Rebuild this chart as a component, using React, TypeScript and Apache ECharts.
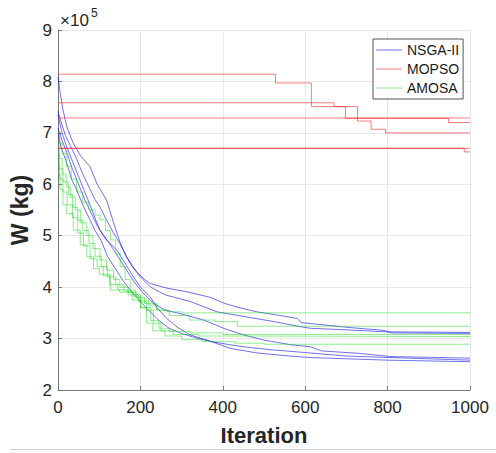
import React, { useEffect, useRef } from "react";
import * as echarts from "echarts";

// values in units of 1e5 kg; each point = [iteration, W]
const nsga1 = [[0,7.42],[8,7.2],[18,6.95],[30,6.75],[45,6.5],[60,6.2],[75,5.95],[90,5.7],[102,5.56],[118,5.3],[135,5.05],[150,4.85],[167,4.59],[180,4.42],[191,4.3],[210,4.15],[224,4.07],[264,3.98],[313,3.91],[370,3.8],[402,3.69],[440,3.6],[483,3.52],[530,3.46],[581,3.39],[590,3.31],[640,3.27],[700,3.22],[790,3.16],[810,3.11],[1000,3.1]];
const nsga2 = [[0,8.09],[5,7.8],[12,7.45],[22,7.1],[37,6.8],[55,6.55],[78,6.34],[95,6.0],[118,5.69],[135,5.25],[151,4.86],[165,4.6],[180,4.4],[200,4.2],[225,4.0],[260,3.85],[321,3.72],[386,3.52],[451,3.43],[524,3.33],[589,3.23],[613,3.2],[700,3.17],[800,3.13],[1000,3.12]];
const nsga3 = [[0,7.35],[10,7.0],[20,6.75],[35,6.45],[50,6.15],[65,5.85],[80,5.55],[92,5.3],[102,5.11],[120,4.9],[143,4.72],[160,4.5],[183,4.2],[200,4.0],[224,3.81],[240,3.6],[264,3.39],[290,3.22],[321,3.07],[362,2.97],[418,2.81],[483,2.72],[548,2.67],[613,2.63],[800,2.58],[1000,2.55]];
const nsga4 = [[0,7.1],[10,6.85],[22,6.6],[35,6.3],[50,6.0],[65,5.7],[80,5.45],[95,5.2],[110,5.0],[125,4.85],[145,4.6],[165,4.35],[185,4.1],[205,3.9],[230,3.7],[260,3.55],[290,3.5],[321,3.43],[354,3.36],[402,3.2],[451,3.07],[500,2.97],[565,2.88],[613,2.84],[640,2.76],[735,2.71],[808,2.65],[1000,2.62]];
const nsga5 = [[0,7.0],[8,6.7],[20,6.45],[33,6.1],[45,5.9],[60,5.6],[75,5.35],[90,5.1],[105,4.9],[120,4.6],[140,4.35],[160,4.1],[180,3.9],[200,3.72],[220,3.55],[245,3.35],[270,3.2],[300,3.1],[340,3.0],[380,2.93],[440,2.85],[520,2.78],[613,2.72],[700,2.66],[850,2.62],[1000,2.58]];

const mopso1 = [[0,8.14],[528,7.97],[615,7.51],[698,7.28],[948,7.2],[1000,7.2]];
const mopso2 = [[0,7.585],[670,7.51],[727,7.23],[760,7.07],[795,7.0],[1000,7.0]];
const mopso3 = [[0,7.29],[1000,7.29]];
const mopso4 = [[0,6.7],[1000,6.7]];
const mopso5 = [[0,6.7],[986,6.63],[1000,6.63]];

const amosa1 = [[0,7.0],[4,6.8],[10,6.6],[20,6.35],[32,6.1],[45,5.85],[60,5.65],[75,5.5],[90,5.4],[102,5.31],[115,5.1],[127,4.92],[140,4.65],[151,4.4],[163,4.15],[175,3.94],[188,3.85],[200,3.75],[220,3.65],[240,3.56],[265,3.52],[300,3.5],[1000,3.5]];
const amosa2 = [[0,6.8],[3,6.5],[10,6.2],[20,5.95],[30,5.75],[42,5.5],[55,5.25],[70,5.0],[85,4.75],[102,4.53],[118,4.33],[135,4.15],[150,4.0],[170,3.9],[190,3.8],[210,3.68],[240,3.55],[270,3.45],[320,3.36],[380,3.33],[435,3.24],[1000,3.24]];
const amosa3 = [[0,6.6],[3,6.3],[12,6.05],[25,5.8],[35,5.55],[48,5.3],[60,5.1],[75,4.85],[90,4.6],[105,4.4],[120,4.2],[140,4.05],[160,3.92],[180,3.75],[200,3.6],[225,3.35],[245,3.2],[270,3.14],[320,3.11],[400,3.08],[1000,3.08]];
const amosa4 = [[0,6.4],[4,6.1],[12,5.85],[22,5.6],[35,5.35],[48,5.05],[62,4.8],[78,4.55],[95,4.4],[110,4.22],[125,4.05],[145,3.95],[170,3.85],[195,3.72],[215,3.55],[232,3.3],[250,3.15],[280,3.08],[340,3.05],[420,3.04],[1000,3.04]];
const amosa5 = [[0,6.2],[5,5.9],[12,5.6],[21,5.43],[37,5.11],[54,4.82],[70,4.59],[86,4.36],[100,4.25],[127,3.94],[150,3.9],[183,3.81],[200,3.6],[215,3.3],[230,3.15],[260,3.05],[300,2.98],[350,2.94],[430,2.91],[500,2.89],[1000,2.89]];

const legendNames = ["NSGA-II", "MOPSO", "AMOSA"];
const xTicks = { min: 0, max: 1000, interval: 200 };
const yTicks = { min: 2, max: 9, interval: 1 };

const groups = [
  { name: "NSGA-II", color: "rgba(10,10,225,0.58)", step: false as any, runs: [nsga1, nsga2, nsga3, nsga4, nsga5] },
  { name: "MOPSO", color: "rgba(255,0,0,0.5)", step: "end" as any, runs: [mopso1, mopso2, mopso3, mopso4, mopso5] },
  { name: "AMOSA", color: "rgba(0,215,0,0.45)", step: "end" as any, runs: [amosa1, amosa2, amosa3, amosa4, amosa5] },
];

export default function App() {
  const ref = useRef<HTMLDivElement>(null);
  useEffect(() => {
    const chart = echarts.init(ref.current!, null, { renderer: "svg" });
    const series: any[] = [];
    groups.forEach((g) => {
      g.runs.forEach((r) => {
        series.push({
          name: g.name,
          type: "line",
          step: g.step,
          data: r,
          symbol: "none",
          lineStyle: { color: g.color, width: 1 },
          itemStyle: { color: g.color },
        });
      });
    });
    const font = "'Liberation Sans', Arial, Helvetica, sans-serif";
    chart.setOption({
      animation: false,
      backgroundColor: "#fff",
      textStyle: { fontFamily: font },
      grid: { left: 58, right: 26, top: 30, bottom: 63, containLabel: false },
      legend: {
        data: legendNames,
        orient: "vertical",
        left: 373,
        top: 39,
        icon: "rect",
        itemWidth: 26,
        itemHeight: 1,
        itemGap: 3,
        padding: [3, 4, 3, 3],
        backgroundColor: "#fff",
        borderColor: "#555",
        borderWidth: 1,
        borderRadius: 0,
        textStyle: { fontSize: 14, lineHeight: 16, color: "#1a1a1a", fontFamily: font },
      },
      xAxis: {
        type: "value",
        min: xTicks.min,
        max: xTicks.max,
        interval: xTicks.interval,
        name: "Iteration",
        nameLocation: "middle",
        nameGap: 34,
        nameTextStyle: { fontSize: 22, fontWeight: "bold", color: "#262626", fontFamily: font },
        axisLine: { show: true, lineStyle: { color: "#777", width: 1 } },
        axisTick: { show: true, inside: true, length: 4, lineStyle: { color: "#777" } },
        axisLabel: { fontSize: 17, color: "#262626", margin: 9, fontFamily: font, formatter: (v: number) => String(v) },
        splitLine: { show: true, lineStyle: { color: "#e8e8e8", width: 1 } },
      },
      yAxis: {
        type: "value",
        min: yTicks.min,
        max: yTicks.max,
        interval: yTicks.interval,
        name: "W (kg)",
        nameLocation: "middle",
        nameGap: 19,
        nameTextStyle: { fontSize: 23, fontWeight: "bold", color: "#262626", fontFamily: font },
        axisLine: { show: true, lineStyle: { color: "#777", width: 1 } },
        axisTick: { show: true, inside: true, length: 4, lineStyle: { color: "#777" } },
        axisLabel: { fontSize: 17, color: "#262626", margin: 6, fontFamily: font, formatter: (v: number) => String(v) },
        splitLine: { show: true, lineStyle: { color: "#e8e8e8", width: 1 } },
      },
      graphic: [
        {
          type: "text",
          left: 60,
          top: 12,
          style: { text: "×10", fontSize: 17, fill: "#262626", fontFamily: font },
        },
        {
          type: "text",
          left: 91,
          top: 7,
          style: { text: "5", fontSize: 12, fill: "#262626", fontFamily: font },
        },
        {
          type: "line",
          shape: { x1: 10, y1: 449.5, x2: 496, y2: 449.5 },
          style: { stroke: "#cfcfcf", lineWidth: 1 },
        },
      ],
      series,
    });
    return () => chart.dispose();
  }, []);
  return <div ref={ref} style={{ width: 496, height: 453, position: "absolute", left: 0, top: 0 }} />;
}
